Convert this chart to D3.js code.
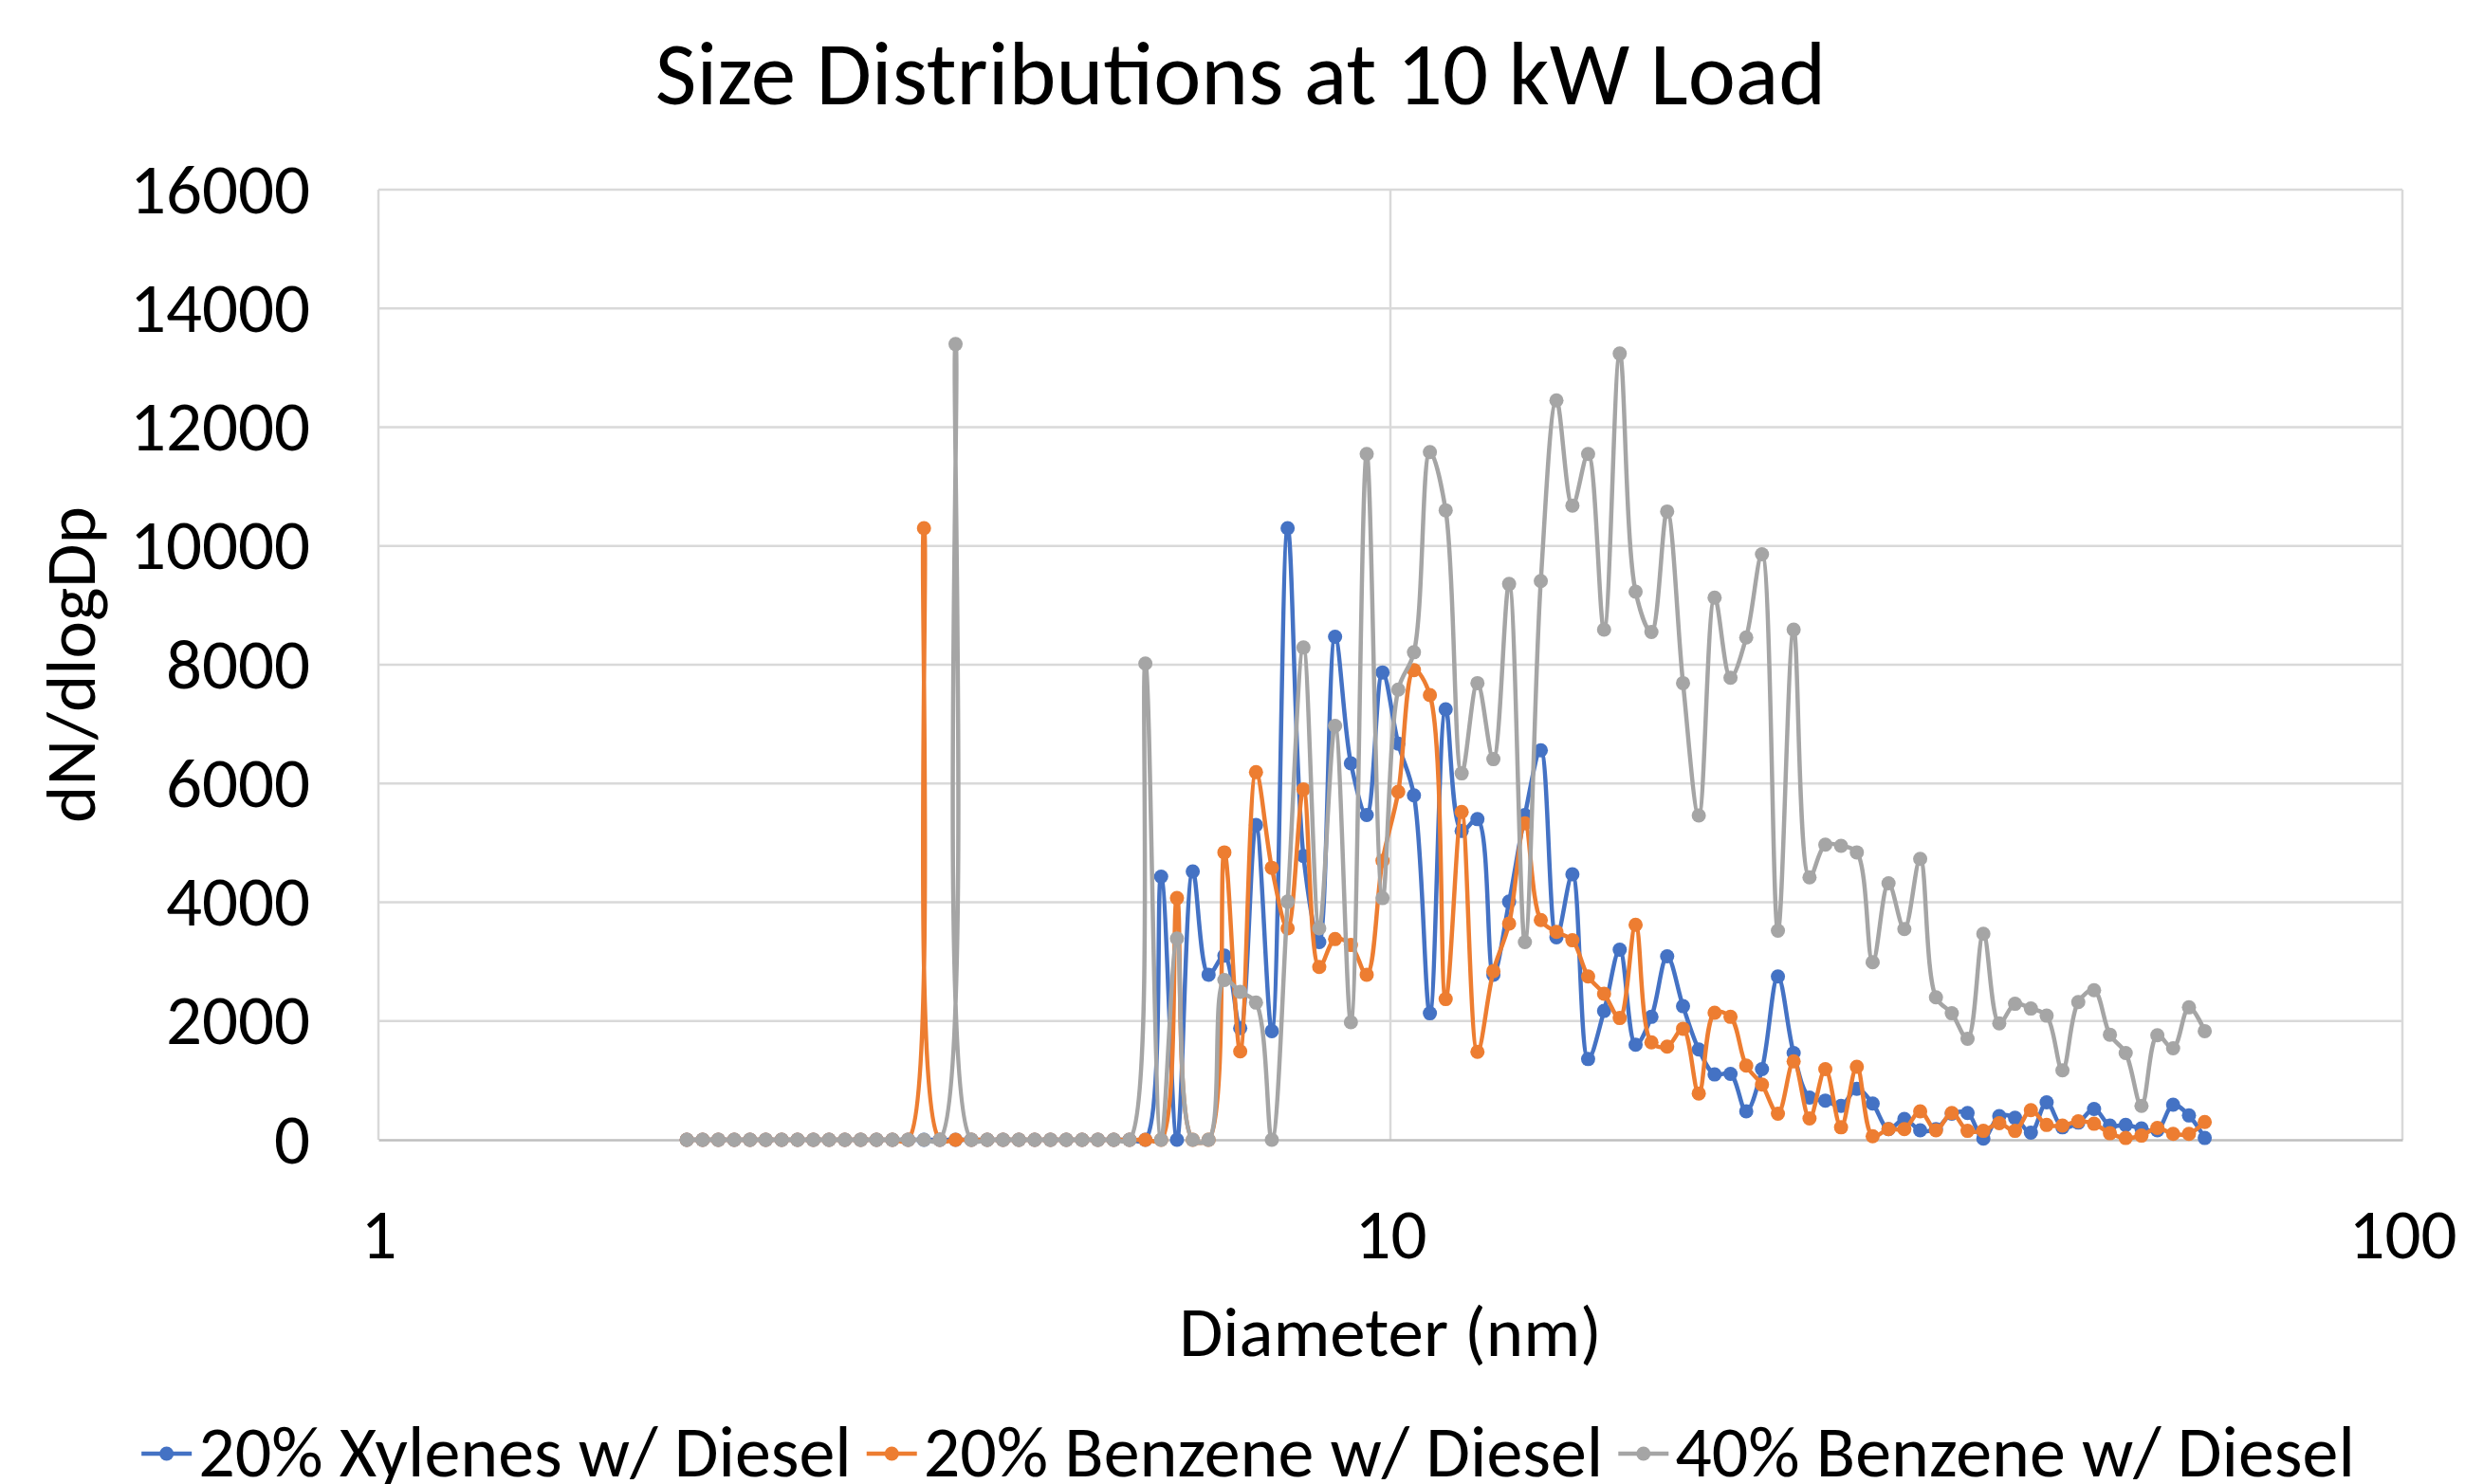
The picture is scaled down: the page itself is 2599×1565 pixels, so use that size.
<!DOCTYPE html>
<html>
<head>
<meta charset="utf-8">
<script src="https://cdn.jsdelivr.net/npm/d3@7"></script>
<style>
  body { margin: 0; background: #fff; }
  svg { display: block; font-family: Carlito, Lato, sans-serif; }
</style>
</head>
<body>
<div id="chart"></div>
<script>
// SMPS channel midpoints (nm), 64 channels per decade
const diameters = [
  2.017, 2.091, 2.167, 2.247, 2.329, 2.414, 2.503, 2.595, 2.690, 2.788,
  2.890, 2.996, 3.106, 3.220, 3.338, 3.460, 3.587, 3.718, 3.854, 3.996,
  4.142, 4.294, 4.451, 4.614, 4.783, 4.958, 5.140, 5.328, 5.523, 5.726,
  5.935, 6.153, 6.378, 6.612, 6.854, 7.105, 7.365, 7.635, 7.915, 8.205,
  8.505, 8.817, 9.140, 9.475, 9.822, 10.18, 10.55, 10.94, 11.34, 11.76,
  12.19, 12.64, 13.10, 13.58, 14.08, 14.59, 15.13, 15.68, 16.26, 16.85,
  17.47, 18.11, 18.77, 19.46, 20.17, 20.91, 21.68, 22.47, 23.29, 24.15,
  25.03, 25.95, 26.90, 27.88, 28.90, 29.96, 31.06, 32.20, 33.38, 34.60,
  35.87, 37.18, 38.54, 39.96, 41.42, 42.94, 44.51, 46.14, 47.83, 49.58,
  51.40, 53.28, 55.23, 57.26, 59.35, 61.53, 63.78
];

const xylene20 = [
  0, 0, 0, 0, 0, 0, 0, 0, 0, 0,
  0, 0, 0, 0, 0, 0, 0, 0, 0, 0,
  0, 0, 0, 0, 0, 0, 0, 0, 0, 0,
  4430, 0, 4520, 2780, 3100, 1880, 5300, 1830, 10300, 4780,
  3330, 8470, 6340, 5470, 7870, 6670, 5800, 2130, 7250, 5200,
  5400, 2780, 4010, 5470, 6560, 3410, 4470, 1360, 2170, 3200,
  1600, 2070, 3090, 2250, 1520, 1100, 1110, 480, 1190, 2750,
  1460, 710, 660, 570, 860, 610, 180, 350, 160, 180,
  440, 450, 20, 400, 370, 120, 630, 210, 290, 520,
  240, 250, 190, 160, 590, 410, 30
];

const benzene20 = [
  0, 0, 0, 0, 0, 0, 0, 0, 0, 0,
  0, 0, 0, 0, 0, 10300, 0, 0, 0, 0,
  0, 0, 0, 0, 0, 0, 0, 0, 0, 0,
  0, 4070, 0, 0, 4840, 1490, 6190, 4580, 3560, 5900,
  2910, 3380, 3280, 2780, 4700, 5860, 7910, 7490, 2370, 5520,
  1480, 2840, 3640, 5330, 3700, 3500, 3360, 2750, 2460, 2050,
  3620, 1640, 1570, 1870, 780, 2140, 2070, 1250, 930, 440,
  1320, 360, 1190, 210, 1230, 60, 180, 180, 480, 160,
  450, 150, 150, 280, 150, 500, 250, 240, 310, 270,
  110, 30, 70, 200, 100, 100, 300
];

const benzene40 = [
  0, 0, 0, 0, 0, 0, 0, 0, 0, 0,
  0, 0, 0, 0, 0, 0, 0, 13400, 0, 0,
  0, 0, 0, 0, 0, 0, 0, 0, 0, 8020,
  0, 3390, 0, 0, 2690, 2490, 2310, 0, 4010, 8290,
  3560, 6970, 1980, 11550, 4070, 7580, 8210, 11580, 10600, 6170,
  7690, 6410, 9360, 3330, 9410, 12450, 10680, 11550, 8590, 13240,
  9230, 8550, 10580, 7690, 5460, 9130, 7780, 8460, 9860, 3520,
  8590, 4420, 4970, 4950, 4840, 2990, 4320, 3550, 4730, 2400,
  2130, 1700, 3470, 1960, 2290, 2210, 2090, 1170, 2320, 2520,
  1770, 1460, 570, 1760, 1540, 2230, 1830
];

const seriesNames = ['20% Xylenes w/ Diesel', '20% Benzene w/ Diesel', '40% Benzene w/ Diesel'];
const seriesValues = [xylene20, benzene20, benzene40];
const seriesColors = ['#4472C4', '#ED7D31', '#A5A5A5'];

const xTicks = [1, 10, 100];
const yTicks = [0, 2000, 4000, 6000, 8000, 10000, 12000, 14000, 16000];

const width = 2599;
const height = 1565;
const margin = { top: 200, right: 66, bottom: 363, left: 399 };
const innerW = width - margin.left - margin.right;
const innerH = height - margin.top - margin.bottom;

const svg = d3.select('#chart')
  .append('svg')
  .attr('width', width)
  .attr('height', height);

const x = d3.scaleLog().domain([1, 100]).range([0, innerW]);
const y = d3.scaleLinear().domain([0, 16000]).range([innerH, 0]);

const g = svg.append('g')
  .attr('transform', `translate(${margin.left},${margin.top})`);

// gridlines
g.append('g')
  .selectAll('line')
  .data(yTicks.slice(1))
  .join('line')
  .attr('x1', 0).attr('x2', innerW)
  .attr('y1', (d) => y(d)).attr('y2', (d) => y(d))
  .attr('stroke', '#D9D9D9').attr('stroke-width', 2.5);

g.append('g')
  .selectAll('line')
  .data(xTicks)
  .join('line')
  .attr('x1', (d) => x(d)).attr('x2', (d) => x(d))
  .attr('y1', 0).attr('y2', innerH)
  .attr('stroke', '#D9D9D9').attr('stroke-width', 2.5);

// axes
const yAxis = d3.axisLeft(y).tickValues(yTicks).tickSize(0).tickPadding(72).tickFormat(d3.format('d'));
g.append('g')
  .call(yAxis)
  .attr('font-family', null)
  .attr('font-size', null)
  .call((a) => a.select('.domain').remove())
  .selectAll('text')
  .style('font-size', '75px')
  .attr('fill', '#000');

const xAxis = d3.axisBottom(x).tickValues(xTicks).tickSize(0).tickPadding(72).tickFormat(d3.format('d'));
g.append('g')
  .attr('transform', `translate(0,${innerH})`)
  .call(xAxis)
  .attr('font-family', null)
  .attr('font-size', null)
  .call((a) => a.select('.domain').attr('stroke', '#BFBFBF').attr('stroke-width', 2.5))
  .selectAll('text')
  .style('font-size', '75px')
  .attr('fill', '#000');

// series
const line = d3.line()
  .x((d) => x(d[0]))
  .y((d) => y(d[1]))
  .curve(d3.curveCatmullRom.alpha(0.5));

seriesValues.forEach((vals, s) => {
  const pts = diameters.map((dia, i) => [dia, vals[i]]);
  g.append('path')
    .datum(pts)
    .attr('d', line)
    .attr('fill', 'none')
    .attr('stroke', seriesColors[s])
    .attr('stroke-width', 4.5)
    .attr('stroke-linejoin', 'round');
  g.append('g')
    .selectAll('circle')
    .data(pts)
    .join('circle')
    .attr('cx', (d) => x(d[0]))
    .attr('cy', (d) => y(d[1]))
    .attr('r', 7.5)
    .attr('fill', seriesColors[s]);
});

// title
svg.append('text')
  .attr('x', 1308)
  .attr('y', 110)
  .attr('text-anchor', 'middle')
  .style('font-size', '95px')
  .text('Size Distributions at 10 kW Load');

// axis titles
svg.append('text')
  .attr('x', margin.left + innerW / 2)
  .attr('y', 1430)
  .attr('text-anchor', 'middle')
  .style('font-size', '75px')
  .text('Diameter (nm)');

svg.append('text')
  .attr('transform', `translate(100,${margin.top + innerH / 2}) rotate(-90)`)
  .attr('text-anchor', 'middle')
  .style('font-size', '75px')
  .text('dN/dlogDp');

// legend
const legend = svg.append('g');
let lx = 0;
seriesNames.forEach((name, s) => {
  const item = legend.append('g').attr('transform', `translate(${lx},0)`);
  item.append('line')
    .attr('x1', 0).attr('x2', 53)
    .attr('y1', -24).attr('y2', -24)
    .attr('stroke', seriesColors[s]).attr('stroke-width', 4.5);
  item.append('circle')
    .attr('cx', 26.5).attr('cy', -24).attr('r', 7.5)
    .attr('fill', seriesColors[s]);
  const t = item.append('text')
    .attr('x', 60)
    .attr('y', 0)
    .style('font-size', '76px')
    .text(name);
  lx += 60 + t.node().getComputedTextLength() + 16;
});
const legendW = lx - 16;
legend.attr('transform', `translate(${1316 - legendW / 2},1557)`);
</script>
</body>
</html>
